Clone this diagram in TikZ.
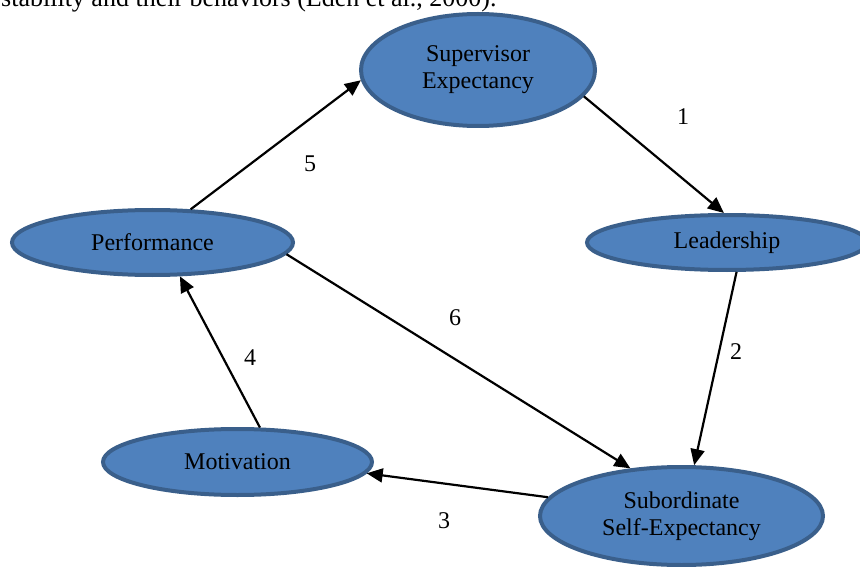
\documentclass[tikz,border=0pt]{standalone}
\usepackage{fontspec}
\setmainfont{Liberation Serif}
\usetikzlibrary{shapes.geometric,arrows.meta}
\definecolor{ellfill}{HTML}{4F81BD}
\definecolor{elldraw}{HTML}{3A5F8B}
\begin{document}
\begin{tikzpicture}[x=1pt,y=-1pt,
  ell/.style={ellipse,draw=elldraw,fill=ellfill,line width=4pt,inner sep=0pt,
    align=center,font=\fontsize{24}{27}\selectfont},
  conn/.style={line width=2.2pt,-{Triangle[length=16pt,width=14pt]}},
  lbl/.style={font=\fontsize{24}{27}\selectfont,inner sep=0pt}]
\useasboundingbox (0,0) rectangle (860,567);
\clip (0,0) rectangle (860,567);
\node[anchor=base west,inner sep=0pt,font=\fontsize{26}{29}\selectfont] (cap) at (1,7)
  {stability and their behaviors (Eden et al., 2000).};
\node[ell,minimum width=234pt,minimum height=112pt] (sup) at (478,70) {Supervisor\\Expectancy};
\node[ell,minimum width=280pt,minimum height=55pt] (lead) at (727,242.5) {Leadership};
\node[ell,minimum width=281pt,minimum height=65pt] (perf) at (152.5,242.5) {Performance};
\node[ell,minimum width=269pt,minimum height=66pt] (mot) at (237.5,462) {Motivation};
\node[ell,minimum width=283pt,minimum height=98pt] (sub) at (681.5,516) {Subordinate\\Self-Expectancy};
\draw[conn] (sup.-14) -- (lead.96);
\draw[conn] (lead.-72) -- (sub.76);
\draw[conn] (sub.172) -- (mot.-5);
\draw[conn] (mot.57) -- (perf.-51);
\draw[conn] (perf.41) -- (sup.185);
\draw[conn] (perf.-5) -- (sub.137);
\node[lbl] (l1) at (683,117) {1};
\node[lbl] (l2) at (736,352) {2};
\node[lbl] (l3) at (444,521) {3};
\node[lbl] (l4) at (250,358) {4};
\node[lbl] (l5) at (310,164) {5};
\node[lbl] (l6) at (455,318) {6};
\end{tikzpicture}
\end{document}
